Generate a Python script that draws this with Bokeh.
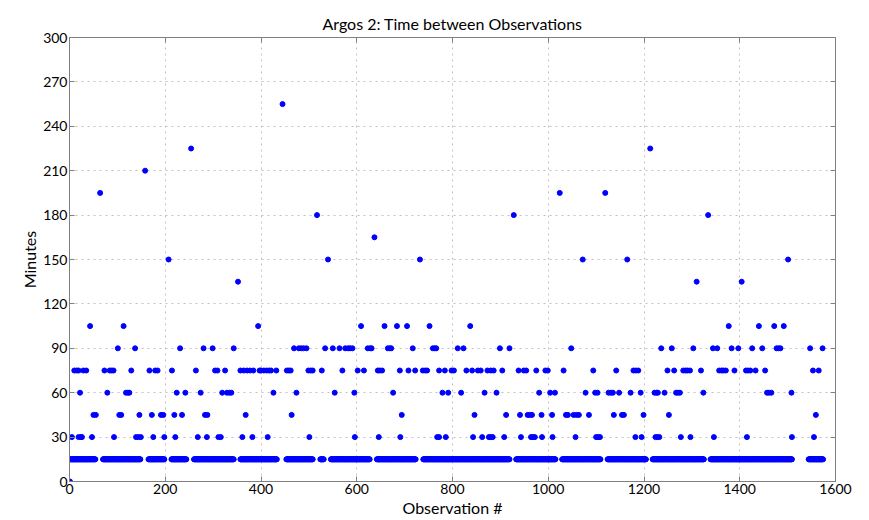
from bokeh.plotting import figure
from bokeh.models import LinearAxis, FixedTicker, Range1d, ColumnDataSource
from bokeh.embed import file_html
from bokeh.resources import INLINE

# ---- data ----
x_ticks = [0, 200, 400, 600, 800, 1000, 1200, 1400, 1600]
y_ticks = [0, 30, 60, 90, 120, 150, 180, 210, 240, 270, 300]

# observation ranges (first, last) where the interval is 15 minutes (dense baseline)
baseline_segments = [(2, 54), (70, 148), (165, 198), (213, 244), (260, 343), (357, 433),
                     (453, 508), (524, 531), (546, 627), (642, 723), (739, 919), (933, 1015),
                     (1029, 1109), (1124, 1204), (1218, 1325), (1339, 1509), (1544, 1574)]
baseline_value = 15

first_obs_x = [1]
first_obs_y = [0]

lvl30_x = [5, 19, 24, 26, 47, 93, 139, 144, 149, 175, 198, 221, 268, 287, 311, 316, 361, 382,
           414, 501, 596, 646, 691, 768, 772, 786, 843, 862, 876, 880, 884, 908, 943, 964, 968,
           972, 987, 1009, 1057, 1100, 1104, 1108, 1182, 1195, 1224, 1228, 1232, 1277, 1297,
           1346, 1415, 1509, 1555]
lvl45_x = [50, 55, 104, 108, 146, 172, 191, 196, 219, 235, 283, 288, 368, 464, 694, 846, 912,
           941, 957, 961, 966, 986, 1008, 1037, 1041, 1053, 1059, 1064, 1085, 1137, 1154, 1158,
           1199, 1252, 1559]
lvl60_x = [22, 79, 118, 122, 125, 224, 242, 274, 319, 329, 334, 338, 426, 474, 554, 595, 676,
           779, 791, 818, 867, 892, 981, 1004, 1014, 1078, 1098, 1103, 1126, 1131, 1135, 1148,
           1172, 1193, 1222, 1226, 1229, 1243, 1267, 1271, 1275, 1324, 1457, 1461, 1466, 1508]
lvl75_x = [10, 15, 19, 29, 35, 73, 84, 88, 92, 129, 167, 179, 184, 214, 264, 304, 309, 325, 357,
           364, 371, 377, 384, 397, 400, 406, 412, 417, 421, 432, 454, 458, 462, 499, 504, 508,
           527, 570, 602, 615, 644, 648, 653, 690, 708, 722, 738, 743, 747, 772, 784, 798, 803,
           829, 841, 853, 859, 873, 880, 886, 904, 938, 949, 954, 975, 994, 999, 1032, 1094,
           1142, 1178, 1183, 1188, 1249, 1263, 1282, 1287, 1291, 1296, 1319, 1357, 1362, 1366,
           1371, 1389, 1413, 1417, 1422, 1433, 1453, 1553, 1565]
lvl90_x = [101, 137, 231, 280, 299, 343, 469, 479, 484, 489, 495, 534, 550, 564, 576, 582, 586,
           591, 623, 628, 631, 665, 669, 672, 717, 759, 763, 766, 811, 823, 899, 919, 1048, 1236,
           1258, 1303, 1344, 1353, 1383, 1397, 1426, 1447, 1477, 1481, 1485, 1547, 1573]
lvl105_x = [43, 113, 394, 609, 658, 684, 705, 752, 837, 1377, 1440, 1472, 1492]

high_x = [64, 158, 207, 254, 352, 445, 517, 540, 637, 732, 928, 1024, 1072, 1119, 1165, 1213,
          1310, 1334, 1404, 1501]
high_y = [195, 210, 150, 225, 135, 255, 180, 150, 165, 150, 180, 195, 150, 195, 150, 225,
          135, 180, 135, 150]

# ---- assemble ----
xs, ys = [], []
for a, b in baseline_segments:
    for i in range(a, b + 1):
        xs.append(i)
        ys.append(baseline_value)
for lx, lv in [(lvl30_x, 30), (lvl45_x, 45), (lvl60_x, 60), (lvl75_x, 75),
               (lvl90_x, 90), (lvl105_x, 105)]:
    xs.extend(lx)
    ys.extend([lv] * len(lx))
xs.extend(high_x)
ys.extend(high_y)
xs.extend(first_obs_x)
ys.extend(first_obs_y)

src = ColumnDataSource(data=dict(x=xs, y=ys))

FONT = "Lato"

p = figure(width=869, height=520, output_backend="svg", toolbar_location=None,
           x_range=Range1d(0, 1600), y_range=Range1d(0, 300),
           min_border_left=69, min_border_right=34, min_border_top=37, min_border_bottom=39,
           title="Argos 2: Time between Observations")
p.title.align = "center"
p.title.text_font = FONT
p.title.text_font_size = "16px"
p.title.text_font_style = "normal"
p.title.text_color = "black"
p.title.standoff = 9

p.scatter("x", "y", source=src, size=5, color="#0000ff", line_color="#0000ff")

p.outline_line_color = "#808080"
p.outline_line_width = 1
p.background_fill_color = "white"
p.border_fill_color = "white"

for ax in [p.xaxis[0], p.yaxis[0]]:
    ax.major_tick_in = 5
    ax.major_tick_out = 0
    ax.minor_tick_line_color = None
    ax.axis_line_color = "#808080"
    ax.major_tick_line_color = "#808080"
    ax.major_label_text_font = FONT
    ax.major_label_text_font_size = "14px"
    ax.major_label_text_color = "black"
    ax.axis_label_text_font = FONT
    ax.axis_label_text_font_size = "16px"
    ax.axis_label_text_font_style = "normal"
    ax.axis_label_text_color = "black"
    ax.major_label_standoff = 2
    ax.axis_label_standoff = 1

p.xaxis[0].ticker = FixedTicker(ticks=x_ticks)
p.yaxis[0].ticker = FixedTicker(ticks=y_ticks)
p.xaxis[0].axis_label = "Observation #"
p.yaxis[0].axis_label = "Minutes"

for loc, tk in [("right", y_ticks), ("above", x_ticks)]:
    ax = LinearAxis(ticker=FixedTicker(ticks=tk), major_label_text_font_size="1px",
                    major_label_text_color=None,
                    major_tick_in=5, major_tick_out=0, minor_tick_line_color=None,
                    axis_line_color="#808080", major_tick_line_color="#808080",
                    major_label_standoff=0)
    p.add_layout(ax, loc)

p.xgrid.ticker = FixedTicker(ticks=x_ticks)
p.ygrid.ticker = FixedTicker(ticks=y_ticks)
p.grid.grid_line_color = "#c0c0c0"
p.grid.grid_line_dash = "dotted"
p.grid.grid_line_width = 1

open("out.html", "w").write(file_html(p, INLINE))
